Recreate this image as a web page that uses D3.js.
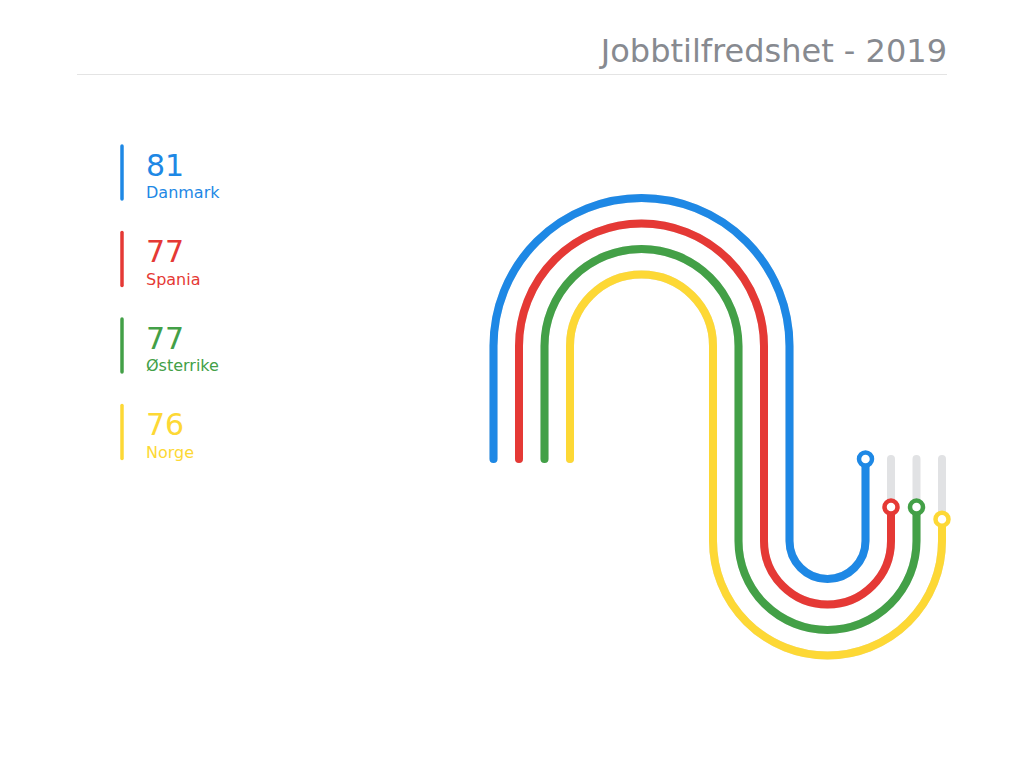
<!DOCTYPE html>
<html>
<head>
<meta charset="utf-8">
<script src="https://cdn.jsdelivr.net/npm/d3@7"></script>
<style>
  body { margin: 0; background: #fff; }
  svg { font-family: "DejaVu Sans", sans-serif; }
</style>
</head>
<body>
<div class="canvas"></div>
<script>
const title = 'Jobbtilfredshet - 2019';
const countries = ['Danmark', 'Spania', 'Østerrike', 'Norge'];
const scores = [81, 77, 77, 76];
const colors = ['#1E88E5', '#E53935', '#43A047', '#FDD835'];

const width = 1024;
const height = 768;

const svg = d3.select('.canvas')
  .append('svg')
  .attr('width', width)
  .attr('height', height);

// title + rule
svg.append('text')
  .attr('x', 947)
  .attr('y', 62)
  .attr('text-anchor', 'end')
  .attr('font-size', '32px')
  .attr('fill', '#878a90')
  .text(title);

svg.append('line')
  .attr('x1', 77).attr('x2', 947)
  .attr('y1', 74.5).attr('y2', 74.5)
  .attr('stroke', '#e4e4e4')
  .attr('stroke-width', 1);

// legend
const legend = svg.append('g')
  .attr('transform', 'translate(122, 146)');

const item = legend.selectAll('g')
  .data(countries)
  .enter()
  .append('g')
  .attr('transform', (d, i) => `translate(0, ${i * 86.5})`);

item.append('line')
  .attr('y1', 0).attr('y2', 53)
  .attr('stroke', (d, i) => colors[i])
  .attr('stroke-width', 3.5)
  .attr('stroke-linecap', 'round');

item.append('text')
  .attr('x', 24)
  .attr('y', 29.5)
  .attr('font-size', '30px')
  .attr('fill', (d, i) => colors[i])
  .text((d, i) => scores[i]);

item.append('text')
  .attr('x', 24)
  .attr('y', 52)
  .attr('font-size', '16px')
  .attr('fill', (d, i) => colors[i])
  .text(d => d);

// serpentine tracks
const topC = { x: 641.5, y: 346 };
const botC = { x: 827.5, y: 541 };
const endY = 459;
const gap = 25.5;

const trackPath = (i) => {
  const rTop = 148 - i * gap;
  const rBot = (botC.x - topC.x) - rTop;
  const p = d3.path();
  p.moveTo(topC.x - rTop, endY);
  p.lineTo(topC.x - rTop, topC.y);
  p.arc(topC.x, topC.y, rTop, Math.PI, 2 * Math.PI, false);
  p.lineTo(botC.x - rBot, botC.y);
  p.arc(botC.x, botC.y, rBot, Math.PI, 0, true);
  p.lineTo(botC.x + rBot, endY);
  return p.toString();
};

const chart = svg.append('g');

const tracks = chart.selectAll('path.track')
  .data(countries)
  .enter()
  .append('path')
  .attr('class', 'track')
  .attr('d', (d, i) => trackPath(i))
  .attr('fill', 'none')
  .attr('stroke', '#e1e2e4')
  .attr('stroke-width', 8)
  .attr('stroke-linecap', 'round');

const total = tracks.node().getTotalLength();
const len = d3.scaleLinear()
  .domain([0, d3.max(scores)])
  .range([0, total]);

chart.selectAll('path.value')
  .data(countries)
  .enter()
  .append('path')
  .attr('class', 'value')
  .attr('d', (d, i) => trackPath(i))
  .attr('fill', 'none')
  .attr('stroke', (d, i) => colors[i])
  .attr('stroke-width', 8)
  .attr('stroke-linecap', 'round')
  .attr('stroke-dasharray', (d, i) => `${len(scores[i])} ${total * 2}`);

// end markers
tracks.each(function (d, i) {
  const pt = this.getPointAtLength(len(scores[i]));
  chart.append('circle')
    .attr('cx', pt.x)
    .attr('cy', pt.y)
    .attr('r', 6.5)
    .attr('fill', '#fff')
    .attr('stroke', colors[i])
    .attr('stroke-width', 4.5);
});
</script>
</body>
</html>
